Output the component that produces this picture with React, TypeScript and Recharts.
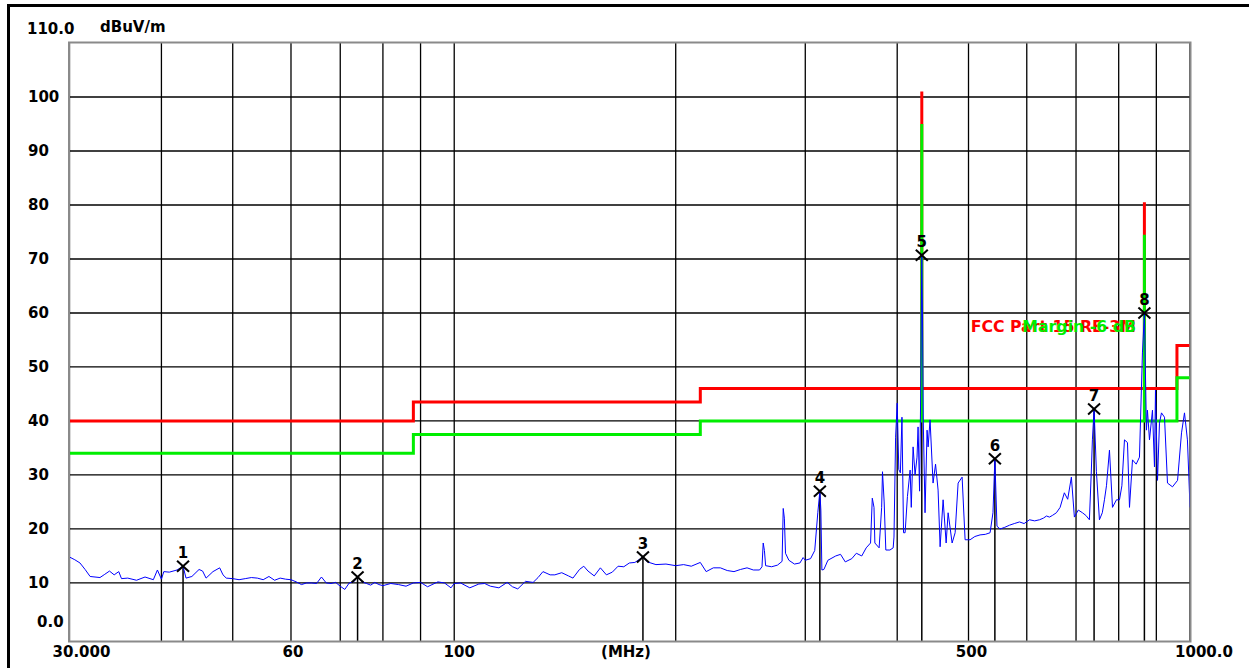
import React from 'react';
import { ComposedChart, Line, Scatter, XAxis, YAxis, CartesianGrid, ReferenceLine } from 'recharts';

// ---------- data ----------
const X_DOMAIN: [number, number] = [30, 1000];
const Y_DOMAIN: [number, number] = [-0.75, 110];
const X_TICKS = [30, 40, 50, 60, 70, 80, 90, 100, 200, 300, 400, 500, 600, 700, 800, 900, 1000];
const X_TICK_LABELS: Record<number, string> = { 30: '30.000', 60: '60', 100: '100', 500: '500', 1000: '1000.0' };
const Y_TICKS = [0, 10, 20, 30, 40, 50, 60, 70, 80, 90, 100, 110];
const Y_TICK_LABELS: Record<number, string> = { 0: '0.0', 110: '110.0' };
const Y_GRID = [10, 20, 30, 40, 50, 60, 70, 80, 90, 100];

const TRACE_FREQ = [
  30, 30.5, 31, 31.5, 32, 33, 33.5, 34, 34.5, 35, 35.3, 36, 37, 38, 39, 39.5, 40, 40.3, 41, 42, 42.8, 43.2, 44, 45, 45.5,
  46, 47, 48, 48.5, 49, 50, 51, 52, 53, 54, 55, 56, 57, 58, 59, 60, 61, 62, 63, 64, 65, 66, 67, 68, 69, 70, 71, 72, 73,
  73.9, 75, 76, 77, 78, 79, 80, 82, 84, 86, 88, 90, 92, 95, 97, 99, 100, 102, 105, 108, 110, 112, 115, 118, 120, 122,
  125, 128, 130, 132, 135, 137, 140, 143, 145, 148, 150, 152, 155, 158, 161, 164, 167, 170, 173, 176, 180.5, 183, 188,
  194, 200, 205, 210, 216, 220, 225, 230, 235, 240, 245, 250, 255, 260, 262, 263, 264, 265, 270, 275, 279, 280, 281,
  282, 285, 290, 295, 298, 300, 305, 309, 312, 314, 315, 316, 318, 322, 330, 335, 340, 347, 352, 358, 363, 368, 370,
  372, 373, 378, 381, 382, 384, 386, 391, 395, 396, 398, 400, 402, 404, 406, 408, 410, 413, 416.5, 418, 420.4, 423,
  425.6, 427, 429, 430.5, 432, 433, 434, 436.4, 439.2, 440.6, 443.3, 447.5, 451, 454.6, 457.5, 461.8, 466.2, 469.1,
  475, 479.5, 484, 490.1, 494.7, 502.5, 510, 518.4, 527, 534.9, 539.8, 543, 546.6, 551.9, 560, 568.5, 577, 586.5, 595,
  605.2, 615, 624.4, 632, 638.2, 644.2, 650, 658.3, 666, 674.9, 682, 689.9, 696.4, 705, 714.2, 722, 729.9, 734, 736.8,
  740.7, 746.1, 753.2, 760, 765.1, 770, 777.2, 784.6, 794.5, 802, 808, 814.6, 822.3, 827.5, 835.3, 845, 853.7, 861.7,
  867, 872.6, 875.3, 880.9, 889.2, 894.8, 897.6, 903.3, 908.9, 914.6, 923.3, 932, 946.7, 961.8, 973.8, 982.9, 992, 1000,
];
const TRACE_LEVEL = [
  14.8, 14.3, 13.7, 12.5, 11.2, 11.0, 11.6, 12.2, 11.5, 12.1, 10.8, 10.9, 10.5, 11.1, 10.6, 12.4, 10.7, 12.1, 12.0, 12.4,
  13.1, 10.9, 11.2, 12.5, 12.2, 10.9, 12.1, 12.8, 11.5, 10.9, 10.8, 10.6, 10.8, 11.0, 10.9, 10.6, 11.2, 10.5, 10.9, 10.7,
  10.6, 10.2, 9.7, 10.0, 10.0, 9.9, 11.1, 10.0, 9.9, 10.1, 9.4, 8.8, 10.0, 10.2, 11.1, 10.2, 9.9, 9.6, 10.1, 9.7, 9.5,
  9.9, 9.7, 9.4, 10.0, 10.1, 9.3, 10.2, 10.0, 9.1, 9.9, 10.0, 9.1, 9.8, 9.9, 9.4, 9.1, 10.1, 9.3, 8.9, 10.3, 10.1, 11.0,
  12.1, 11.5, 11.5, 11.9, 11.3, 10.9, 12.5, 13.1, 12.2, 11.3, 12.8, 11.5, 12.0, 13.1, 13.0, 13.7, 13.8, 14.8, 13.9, 13.4,
  13.5, 13.2, 13.4, 13.1, 13.8, 12.1, 12.8, 12.8, 12.3, 12.1, 12.5, 12.8, 12.4, 12.4, 13.0, 17.4, 16.0, 13.2, 13.0, 13.3,
  14.0, 23.8, 22.0, 15.5, 14.2, 13.5, 13.7, 14.7, 14.2, 14.5, 16.0, 23.0, 27.0, 23.5, 12.4, 12.5, 14.2, 15.0, 15.3, 13.9,
  14.5, 15.5, 15.0, 16.5, 17.4, 25.7, 24.0, 17.4, 16.5, 24.0, 30.6, 25.0, 16.1, 16.1, 16.5, 18.5, 37.0, 43.3, 31.0, 30.4,
  40.7, 19.3, 19.3, 26.0, 30.9, 24.0, 35.2, 30.0, 33.3, 38.9, 27.0, 45.0, 70.7, 58.7, 40.0, 23.0, 38.3, 35.2, 40.2, 28.5,
  32.0, 27.2, 16.7, 25.4, 17.4, 23.0, 17.4, 19.3, 28.5, 29.6, 18.0, 18.0, 18.6, 18.9, 19.0, 19.3, 23.0, 33.0, 20.5, 20.0,
  20.3, 20.7, 21.0, 21.3, 21.0, 21.7, 21.5, 21.7, 22.0, 22.4, 22.2, 22.5, 23.0, 24.0, 26.7, 25.5, 29.6, 22.2, 23.5, 23.0,
  22.5, 21.7, 30.0, 36.5, 42.2, 30.6, 21.7, 23.0, 25.4, 28.0, 34.6, 24.0, 25.4, 25.4, 28.0, 36.5, 36.0, 24.0, 32.8, 32.0,
  33.3, 52.6, 60.0, 38.3, 42.0, 36.5, 42.0, 31.5, 45.7, 29.0, 39.6, 41.5, 40.7, 28.5, 27.8, 29.0, 37.8, 41.5, 36.5, 24.0,
];

const LIMIT_FREQ = [30, 88, 88, 216, 216, 432, 432, 432, 867, 867, 867, 960, 960, 1000];
const LIMIT_LEVEL = [40, 40, 43.5, 43.5, 46, 46, 101, 46, 46, 80.5, 46, 46, 54, 54];
const MARGIN_LEVEL = [34, 34, 37.5, 37.5, 40, 40, 95, 40, 40, 74.5, 40, 40, 48, 48];

const MARKER_ID = ['1', '2', '3', '4', '5', '6', '7', '8'];
const MARKER_FREQ = [42.8, 73.9, 180.5, 314, 432, 543, 740.7, 867];
const MARKER_LEVEL = [13.1, 11.1, 14.8, 27.0, 70.7, 33.0, 42.2, 60.0];

const LIMIT_NAME = 'FCC Part 15 RE-3M';
const MARGIN_NAME = 'Margin -6 dB';
const Y_UNIT = 'dBuV/m';
const X_UNIT = '(MHz)';

// ---------- derived tables ----------
const trace = TRACE_FREQ.map((f, i) => ({ f, v: TRACE_LEVEL[i] }));
const limit = LIMIT_FREQ.map((f, i) => ({ f, v: LIMIT_LEVEL[i] }));
const margin = LIMIT_FREQ.map((f, i) => ({ f, v: MARGIN_LEVEL[i] }));
const markers = MARKER_FREQ.map((f, i) => ({ f, v: MARKER_LEVEL[i], id: MARKER_ID[i] }));

// ---------- layout ----------
const W = 1249;
const H = 668;
const PLOT_LEFT = 69.5;
const PLOT_RIGHT = 1190;
const PLOT_TOP = 43;
const PLOT_BOTTOM = 641;
const Y_AXIS_W = 60;
const X_AXIS_H = 27;
const FONT = '"DejaVu Sans", Verdana, sans-serif';
const FS = 15;

const X_LABEL_DX: Record<number, number> = { 30: 12, 60: 2, 100: 5, 500: 3, 1000: 14 };

const XTick = (props: any) => {
  const { x, payload } = props;
  const label = X_TICK_LABELS[payload.value];
  if (!label) return null;
  return (
    <text x={x + (X_LABEL_DX[payload.value] || 0)} y={657} textAnchor="middle" fontFamily={FONT} fontWeight="bold" fontSize={FS} fill="#000">
      {label}
    </text>
  );
};

const YTick = (props: any) => {
  const { y, payload } = props;
  const v = payload.value;
  const label = Y_TICK_LABELS[v] ?? String(v);
  let tx = 28;
  let dy = 5;
  if (v === 0) { tx = 37; dy = -10; }
  if (v === 110) { tx = 27; dy = -9; }
  return (
    <text x={tx} y={y + dy} textAnchor="start" fontFamily={FONT} fontWeight="bold" fontSize={FS} fill="#000">
      {label}
    </text>
  );
};

const MarkerShape = (props: any) => {
  const { cx, cy, payload } = props;
  if (cx == null || cy == null) return null;
  return (
    <g>
      <line x1={cx - 6} y1={cy - 5.5} x2={cx + 6} y2={cy + 5.5} stroke="#000" strokeWidth={2} />
      <line x1={cx - 6} y1={cy + 5.5} x2={cx + 6} y2={cy - 5.5} stroke="#000" strokeWidth={2} />
      <text x={cx} y={cy - 8} textAnchor="middle" fontFamily={FONT} fontWeight="bold" fontSize={FS} fill="#000">
        {payload.id}
      </text>
    </g>
  );
};

export default function App() {
  return (
    <div style={{ position: 'absolute', left: 0, top: 0, width: W, height: H, background: '#fff', overflow: 'hidden' }}>
      <ComposedChart
        width={W}
        height={H}
        margin={{ top: PLOT_TOP, left: PLOT_LEFT - Y_AXIS_W, right: W - PLOT_RIGHT, bottom: H - PLOT_BOTTOM - X_AXIS_H }}
      >
        <CartesianGrid stroke="#000" strokeWidth={1.3} horizontalValues={Y_GRID} />
        <XAxis
          dataKey="f"
          type="number"
          scale="log"
          domain={X_DOMAIN}
          ticks={X_TICKS}
          allowDataOverflow
          height={X_AXIS_H}
          axisLine={false}
          tickLine={false}
          tick={<XTick />}
          interval={0}
        />
        <YAxis
          type="number"
          domain={Y_DOMAIN}
          ticks={Y_TICKS}
          allowDataOverflow
          width={Y_AXIS_W}
          axisLine={false}
          tickLine={false}
          tick={<YTick />}
          interval={0}
        />
        {markers.map((m) => (
          <ReferenceLine
            key={'stem' + m.id}
            segment={[{ x: m.f, y: m.v }, { x: m.f, y: Y_DOMAIN[0] }]}
            stroke="#000"
            strokeWidth={1.5}
          />
        ))}
        <Line data={limit} dataKey="v" type="linear" stroke="#ff0000" strokeWidth={3} dot={false} isAnimationActive={false} />
        <Line data={margin} dataKey="v" type="linear" stroke="#00ee00" strokeWidth={3} dot={false} isAnimationActive={false} />
        <Line data={trace} dataKey="v" type="linear" stroke="#0000ff" strokeWidth={1} dot={false} isAnimationActive={false} />
        <Scatter data={markers} dataKey="v" shape={<MarkerShape />} isAnimationActive={false} />
      </ComposedChart>
      <svg width={W} height={H} style={{ position: 'absolute', left: 0, top: 0, pointerEvents: 'none' }}>
        <line x1={7} y1={5.5} x2={W} y2={5.5} stroke="#000" strokeWidth={3} />
        <line x1={8.5} y1={4} x2={8.5} y2={H} stroke="#000" strokeWidth={3} />
        <rect
          x={PLOT_LEFT - 0.5}
          y={PLOT_TOP - 0.5}
          width={PLOT_RIGHT - PLOT_LEFT + 1}
          height={PLOT_BOTTOM - PLOT_TOP + 1}
          fill="none"
          stroke="#8a8a8a"
          strokeWidth={2}
        />
        <text x={100} y={32} fontFamily={FONT} fontWeight="bold" fontSize={FS} fill="#000">{Y_UNIT}</text>
        <text x={626} y={657} textAnchor="middle" fontFamily={FONT} fontWeight="bold" fontSize={FS} fill="#000">{X_UNIT}</text>
        <text x={1136} y={332} textAnchor="end" fontFamily={FONT} fontWeight="bold" fontSize={15.75} fill="#ff0000">{LIMIT_NAME}</text>
        <text x={1136} y={332} textAnchor="end" fontFamily={FONT} fontWeight="bold" fontSize={15.75} fill="#00ee00">{MARGIN_NAME}</text>
      </svg>
    </div>
  );
}
